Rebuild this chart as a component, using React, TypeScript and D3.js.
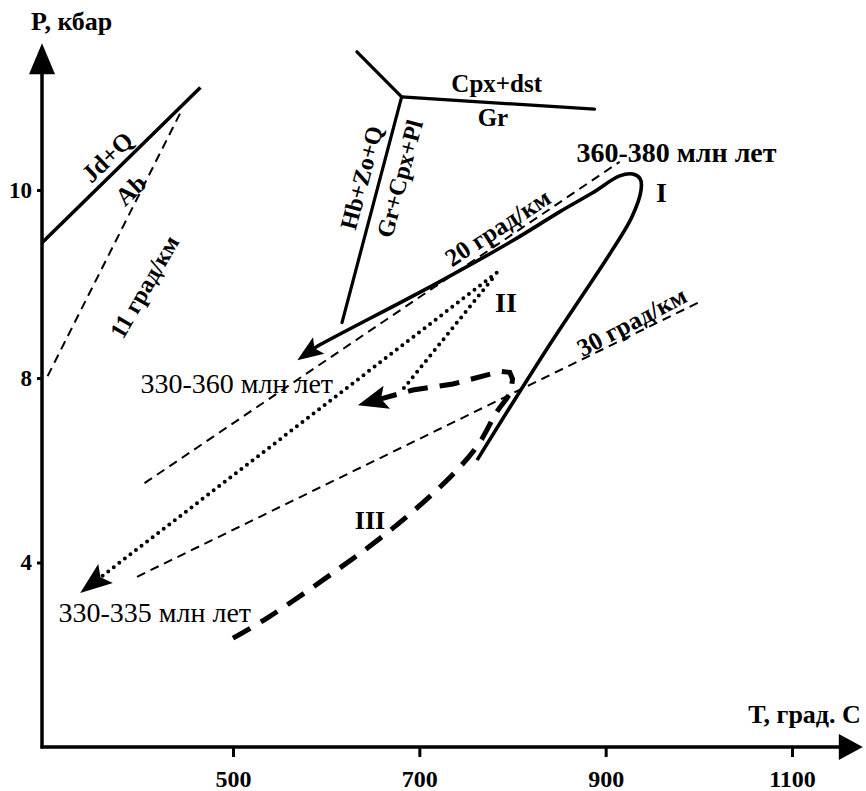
import React, { useRef, useEffect } from 'react';
import * as d3 from 'd3';

// axis ticks
const tempTicks = [500, 700, 900, 1100];
const tempTickLabels = ['500', '700', '900', '1100'];
const presTicks = [10, 8, 4];
const presTickLabels = ['10', '8', '4'];

// axis extent [T, P]
const tempRange = [295, 1176];
const presRange = [0, 11.56];

// reaction lines, [T, P]
const jdQAb = [[295, 9.44], [465, 11.09]];
const triplePoint = [681, 10.99];
const tripleEnds = [[633, 11.47], [888, 10.86], [617, 8.59]];

// geotherms
const geotherm11 = [[301, 8.02], [446, 10.87]];
const geotherm20 = [[405, 5.72], [915, 10.3]];
const geotherm30 = [[397, 3.69], [999, 8.8]];

// P-T paths (last point = arrow tip)
const pathI = [[762, 6.22], [835, 8.28], [907, 9.36], [928, 9.71], [938, 10.0], [937, 10.12], [929, 10.17],
  [915, 10.15], [886, 9.97], [851, 9.77], [800, 9.46], [719, 9.01], [591, 8.34], [569, 8.19]];
const pathIIa = [[783, 9.12], [336, 3.34]];
const pathIIb = [[778, 9.05], [679, 7.67]];
const pathIIIrise = [[500, 2.36], [537, 2.8], [607, 3.77], [672, 4.75], [733, 5.85], [763, 6.55],
  [783, 7.26], [797, 7.67], [800, 7.98]];
const pathIIIback = [[800, 7.98], [797, 8.06], [787, 8.07], [736, 7.87], [693, 7.74], [634, 7.41]];

// annotations
const labelText = ['Jd+Q', 'Ab', '11 град/км', 'Hb+Zo+Q', 'Gr+Cpx+Pl', 'Cpx+dst', 'Gr', '360-380 млн лет', 'I',
  '20 град/км', 'II', '30 град/км', '330-360 млн лет', '330-335 млн лет', 'III'];
const labelT = [365, 390, 405, 638, 679, 783, 779, 976, 960, 784, 793, 928, 504, 416, 647];
const labelP = [10.35, 10.0, 8.97, 10.13, 10.12, 11.13, 10.77, 10.4, 9.97, 9.6, 8.8, 8.6, 7.89, 2.91, 4.9];
const labelAngle = [-44, -44, -60, -75, -75, 0, 0, 0, 0, -33, 0, -28, 0, 0, 0];
const labelBold = [1, 1, 1, 1, 1, 1, 1, 1, 1, 1, 1, 1, 0, 0, 1];
const labelSize = [25, 25, 24, 24, 24, 25, 25, 28, 28, 25, 28, 25, 28, 28, 26];

const FONT = '"Liberation Serif", "Times New Roman", "DejaVu Serif", serif';

const PTDiagram = () => {
  const ref = useRef(null);

  useEffect(() => {
    d3.select(ref.current).selectAll('*').remove();
    const width = 866;
    const height = 791;

    const x = d3.scaleLinear().domain([500, 1100]).range([233, 792]);
    // the original axis is not uniform above 8 kbar
    const y = d3.scaleLinear().domain([0, 8, 10]).range([747, 378, 190]);
    const px = (d) => [x(d[0]), y(d[1])];

    const svg = d3.select(ref.current)
      .append('svg')
        .attr('width', width)
        .attr('height', height)
        .style('display', 'block')
        .style('background', '#fff');

    const line = d3.line();
    const curve = d3.line().curve(d3.curveCatmullRom.alpha(0.5));

    // arrowhead + trimmed points
    const arrow = (pts, len, half) => {
      const p = pts.map(px);
      const tip = p[p.length - 1];
      const prev = p[p.length - 2];
      const dx = tip[0] - prev[0], dy = tip[1] - prev[1];
      const d = Math.hypot(dx, dy);
      const ux = dx / d, uy = dy / d;
      const base = [tip[0] - ux * len, tip[1] - uy * len];
      const notch = [tip[0] - ux * len * 0.8, tip[1] - uy * len * 0.8];
      const head = [tip, [base[0] - uy * half, base[1] + ux * half], notch, [base[0] + uy * half, base[1] - ux * half]];
      const body = p.slice(0, -1).concat([notch]);
      return { head, body };
    };

    const g = svg.append('g');

    // axes
    const x0 = x(tempRange[0]);
    const y0 = y(presRange[0]);
    const yTop = y(presRange[1]);
    const xEnd = x(tempRange[1]);
    g.append('line').attr('x1', x0).attr('y1', y0 + 1.5).attr('x2', x0).attr('y2', yTop + 25)
      .attr('stroke', '#000').attr('stroke-width', 3.5);
    g.append('path').attr('d', line([[x0, yTop], [x0 - 13, yTop + 31], [x0 + 13, yTop + 31]]) + 'Z').attr('fill', '#000');
    g.append('line').attr('x1', x0 - 1.5).attr('y1', y0).attr('x2', xEnd - 20).attr('y2', y0)
      .attr('stroke', '#000').attr('stroke-width', 3.5);
    g.append('path').attr('d', line([[xEnd, y0], [xEnd - 24, y0 - 13], [xEnd - 24, y0 + 13]]) + 'Z').attr('fill', '#000');

    const xAxis = g.append('g')
      .attr('transform', `translate(0, ${y0})`)
      .call(d3.axisBottom(x).tickValues(tempTicks).tickSize(10).tickPadding(13)
        .tickFormat((d, i) => tempTickLabels[i]));
    xAxis.select('.domain').remove();
    xAxis.selectAll('line').attr('stroke-width', 3);
    xAxis.selectAll('text').attr('font-family', FONT).attr('font-size', 24).attr('font-weight', 'bold').attr('fill', '#000');

    const yAxis = g.append('g')
      .attr('transform', `translate(${x0}, 0)`)
      .call(d3.axisLeft(y).tickValues(presTicks).tickSize(5).tickPadding(5)
        .tickFormat((d, i) => presTickLabels[i]));
    yAxis.select('.domain').remove();
    yAxis.selectAll('line').attr('stroke-width', 3);
    yAxis.selectAll('text').attr('font-family', FONT).attr('font-size', 23).attr('font-weight', 'bold').attr('fill', '#000');

    g.append('text').attr('x', x0 - 11).attr('y', yTop - 13)
      .attr('font-family', FONT).attr('font-size', 26).attr('font-weight', 'bold')
      .text('P, кбар');
    g.append('text').attr('x', xEnd - 2).attr('y', y0 - 24).attr('text-anchor', 'end')
      .attr('font-family', FONT).attr('font-size', 26).attr('font-weight', 'bold')
      .text('T, град. С');

    // reactions
    g.append('path').attr('d', line(jdQAb.map(px))).attr('fill', 'none').attr('stroke', '#000').attr('stroke-width', 3.5);
    tripleEnds.forEach((e) => {
      g.append('path').attr('d', line([triplePoint, e].map(px))).attr('fill', 'none')
        .attr('stroke', '#000').attr('stroke-width', 3.2).attr('stroke-linecap', 'round');
    });

    // geotherms
    [geotherm11, geotherm20, geotherm30].forEach((gt) => {
      g.append('path').attr('d', line(gt.map(px))).attr('fill', 'none')
        .attr('stroke', '#000').attr('stroke-width', 2).attr('stroke-dasharray', '9,6');
    });

    // path I
    const aI = arrow(pathI, 26, 10);
    g.append('path').attr('d', curve(aI.body)).attr('fill', 'none').attr('stroke', '#000').attr('stroke-width', 3.6);
    g.append('path').attr('d', line(aI.head) + 'Z').attr('fill', '#000');

    // path II
    const aII = arrow(pathIIa, 32, 12);
    g.append('path').attr('d', line(aII.body)).attr('fill', 'none').attr('stroke', '#000')
      .attr('stroke-width', 4).attr('stroke-linecap', 'round').attr('stroke-dasharray', '0,7');
    g.append('path').attr('d', line(aII.head) + 'Z').attr('fill', '#000');
    g.append('path').attr('d', line(pathIIb.map(px))).attr('fill', 'none').attr('stroke', '#000')
      .attr('stroke-width', 4).attr('stroke-linecap', 'round').attr('stroke-dasharray', '0,7');

    // path III: smooth rise, then sharp hook back to the arrow
    const aIII = arrow(pathIIIback, 30, 12);
    const dIII = curve(pathIIIrise.map(px)) + line(aIII.body.slice(1)).replace('M', 'L');
    g.append('path').attr('d', dIII).attr('fill', 'none').attr('stroke', '#000')
      .attr('stroke-width', 5).attr('stroke-dasharray', '20,12');
    g.append('path').attr('d', line(aIII.head) + 'Z').attr('fill', '#000');

    // labels
    labelText.forEach((t, i) => {
      const cx = x(labelT[i]);
      const cy = y(labelP[i]);
      g.append('text')
        .attr('transform', `translate(${cx},${cy}) rotate(${labelAngle[i]})`)
        .attr('text-anchor', 'middle')
        .attr('dominant-baseline', 'central')
        .attr('font-family', FONT)
        .attr('font-size', labelSize[i])
        .attr('font-weight', labelBold[i] ? 'bold' : 'normal')
        .text(t);
    });
  }, []);

  return (
    <div ref={ref} style={{ position: 'absolute', left: 0, top: 0 }}></div>
  );
};

export default function App() {
  return <PTDiagram />;
}
